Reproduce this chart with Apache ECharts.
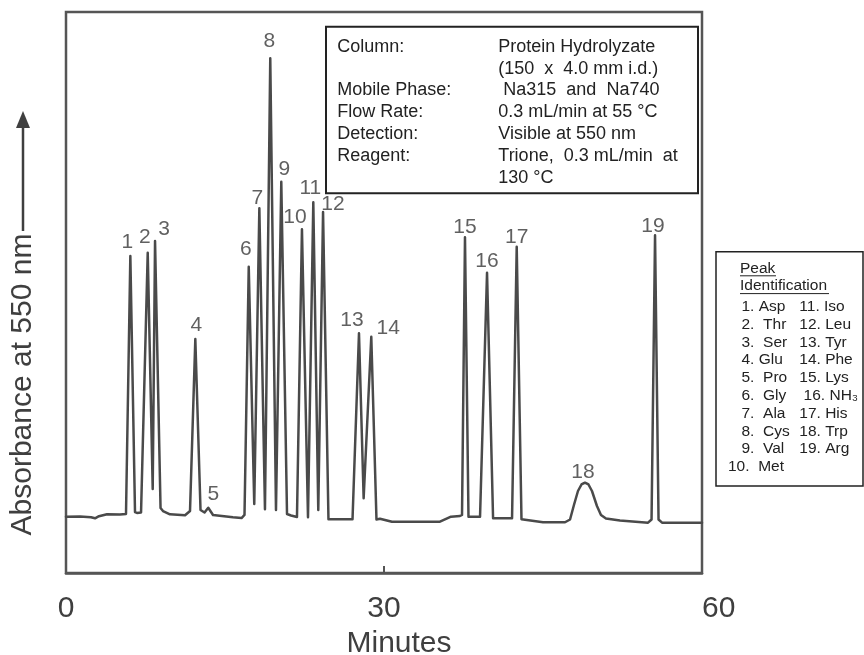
<!DOCTYPE html>
<html><head><meta charset="utf-8">
<script src="https://cdn.jsdelivr.net/npm/echarts@6/dist/echarts.min.js"></script>
<style>html,body{margin:0;padding:0;background:#fff}#c{width:864px;height:655px}</style>
</head><body><div id="c"></div>
<script>
// ---- data ----
const traceTime = [0.00,1.32,2.36,2.74,3.11,3.87,5.09,5.66,6.07,6.51,6.70,7.08,7.71,8.18,8.40,8.92,9.15,9.81,11.23,11.70,12.20,12.69,13.07,13.42,13.87,15.75,16.56,16.84,17.24,17.76,18.24,18.77,19.27,19.81,20.31,20.85,21.23,21.79,22.26,22.83,23.33,23.80,24.25,24.76,27.03,27.64,28.08,28.80,29.29,29.62,30.09,30.75,35.28,36.32,37.17,37.36,37.64,37.97,39.06,39.72,40.29,42.08,42.52,42.97,45.00,47.08,47.55,47.92,48.30,48.63,48.96,49.29,49.62,50.09,50.47,50.94,52.26,54.91,55.24,55.57,55.90,56.23,60.00];
const traceAbs = [10.04,10.05,9.93,9.75,10.12,10.48,10.41,10.52,56.51,10.87,10.70,10.78,57.09,14.97,59.18,11.59,11.05,10.46,10.29,11.05,41.71,11.23,10.78,11.64,10.34,9.93,9.80,10.34,54.60,12.30,65.01,11.35,91.75,11.23,69.75,10.52,10.25,9.98,61.27,9.93,66.08,11.23,64.35,9.57,9.57,42.73,13.32,42.12,9.54,9.68,9.45,9.14,9.14,10.04,10.16,10.34,59.84,10.04,10.04,53.53,9.75,9.75,58.16,9.57,9.04,9.04,9.54,12.12,14.62,15.78,16.10,15.78,14.62,11.94,10.34,9.71,9.36,8.97,9.54,60.20,9.54,8.97,8.97];

const peakNumbers = ['1','2','3','4','5','6','7','8','9','10','11','12','13','14','15','16','17','18','19'];
const peakTimes   = [6.07,7.71,8.40,12.20,13.42,17.24,18.24,19.27,20.31,22.26,23.33,24.25,27.64,28.80,37.64,39.72,42.52,48.96,55.57];
const peakHeights = [56.51,57.09,59.18,41.71,11.64,54.60,65.01,91.75,69.75,61.27,66.08,64.35,42.73,42.12,59.84,53.53,58.16,16.10,60.20];

const xTicks = [0, 30, 60];
const xTitle = 'Minutes';
const yTitle = 'Absorbance at 550 nm';

const infoLabels = ['Column:', '', 'Mobile Phase:', 'Flow Rate:', 'Detection:', 'Reagent:', ''];
const infoValues = ['Protein Hydrolyzate', '(150  x  4.0 mm i.d.)', ' Na315  and  Na740', '0.3 mL/min at 55 °C', 'Visible at 550 nm', 'Trione,  0.3 mL/min  at', '130 °C'];

const legendTitle = ['Peak', 'Identification'];
const legendCol1 = ['1. Asp', '2.  Thr', '3.  Ser', '4. Glu', '5.  Pro', '6.  Gly', '7.  Ala', '8.  Cys', '9.  Val', '10.  Met'];
const legendCol2 = ['11. Iso', '12. Leu', '13. Tyr', '14. Phe', '15. Lys', ' 16. NH\u2083', '17. His', '18. Trp', '19. Arg'];

// ---- styling (label nudges in px, not data) ----
const labelOffsets = [[-3,-14],[-3,-16],[9,-12],[1,-14],[5,-13],[-3,-17],[-2,-10],[-1,-17],[3,-12],[-7,-12],[-3,-14],[10,-8],[-7,-13],[17,-9],[0,-10],[0,-11],[0,-10],[-2,-10],[-2,-9]];
const FONT = '"Liberation Sans", Arial, Helvetica, sans-serif';
const INK = '#3f3f3f';

const chart = echarts.init(document.getElementById('c'), null, {renderer: 'canvas'});

const graphics = [];
// y axis title with arrow
graphics.push({type: 'text', x: 23, y: 384.5, rotation: Math.PI / 2, silent: true,
  style: {text: yTitle, x: 0, y: 0, align: 'center', verticalAlign: 'middle', fontSize: 30, fontFamily: FONT, fill: INK}});
graphics.push({type: 'line', silent: true, shape: {x1: 23, y1: 231, x2: 23, y2: 124}, style: {stroke: INK, lineWidth: 2.5}});
graphics.push({type: 'polygon', silent: true, shape: {points: [[23, 111], [16, 128], [30, 128]]}, style: {fill: INK}});

// info box
graphics.push({type: 'rect', silent: true, z: 10, shape: {x: 326, y: 26.7, width: 372, height: 166.6}, style: {fill: '#fff', stroke: '#222', lineWidth: 2}});
graphics.push({type: 'text', silent: true, z: 11, style: {text: infoLabels.join('\n'), x: 337.3, y: 35.75, align: 'left', verticalAlign: 'top', fontSize: 18, lineHeight: 21.9, fontFamily: FONT, fill: '#222'}});
graphics.push({type: 'text', silent: true, z: 11, style: {text: infoValues.join('\n'), x: 498.3, y: 35.75, align: 'left', verticalAlign: 'top', fontSize: 18, lineHeight: 21.9, fontFamily: FONT, fill: '#222'}});

// peak identification box
graphics.push({type: 'rect', silent: true, z: 10, shape: {x: 716, y: 251.7, width: 147, height: 234.3}, style: {fill: '#fff', stroke: '#222', lineWidth: 1.5}});
const legRow0 = 306.7, legStep = 17.8;
legendTitle.forEach((t, i) => {
  const y = i === 0 ? 268.3 : 286;
  graphics.push({type: 'text', silent: true, z: 11, style: {text: t, x: 740, y: y, align: 'left', verticalAlign: 'middle', fontSize: 15.5, fontFamily: FONT, fill: '#222'}});
});
graphics.push({type: 'line', silent: true, z: 11, shape: {x1: 740, y1: 275.8, x2: 776, y2: 275.8}, style: {stroke: '#222', lineWidth: 1}});
graphics.push({type: 'line', silent: true, z: 11, shape: {x1: 740, y1: 293.6, x2: 829, y2: 293.6}, style: {stroke: '#222', lineWidth: 1}});
legendCol1.forEach((t, i) => {
  graphics.push({type: 'text', silent: true, z: 11, style: {text: t, x: i === 9 ? 728 : 741.5, y: legRow0 + legStep * i, align: 'left', verticalAlign: 'middle', fontSize: 15.5, fontFamily: FONT, fill: '#222'}});
});
legendCol2.forEach((t, i) => {
  graphics.push({type: 'text', silent: true, z: 11, style: {text: t, x: 799.3, y: legRow0 + legStep * i, align: 'left', verticalAlign: 'middle', fontSize: 15.5, fontFamily: FONT, fill: '#222'}});
});

const option = {
  animation: false,
  backgroundColor: '#fff',
  grid: {left: 66, right: 162, top: 12, bottom: 82, show: true, borderColor: '#555', borderWidth: 2.5, backgroundColor: 'transparent', containLabel: false, outerBoundsMode: 'none'},
  xAxis: {
    type: 'value', min: xTicks[0], max: xTicks[xTicks.length - 1], interval: xTicks[1] - xTicks[0],
    axisLine: {show: true, lineStyle: {color: '#555', width: 2.5}},
    axisTick: {show: true, inside: true, length: 7, lineStyle: {color: '#555', width: 2}},
    splitLine: {show: false},
    axisLabel: {fontSize: 30, fontFamily: FONT, color: INK, margin: 21, alignMaxLabel: 'left'},
    name: xTitle, nameLocation: 'middle', nameGap: 53,
    nameTextStyle: {fontSize: 30, fontFamily: FONT, color: INK, padding: [0, 0, 0, 30]}
  },
  yAxis: {
    type: 'value', min: 0, max: 100,
    axisLine: {show: false}, axisTick: {show: false}, axisLabel: {show: false}, splitLine: {show: false}
  },
  series: [
    {
      type: 'line', silent: true, symbol: 'none', showSymbol: false, z: 2,
      data: traceTime.map((t, i) => [t, traceAbs[i]]),
      lineStyle: {color: '#4a4a4a', width: 2.5, join: 'round', cap: 'round'}
    },
    {
      type: 'scatter', silent: true, symbolSize: 1, z: 3,
      itemStyle: {color: 'rgba(0,0,0,0)'},
      data: peakTimes.map((t, i) => ({value: [t, peakHeights[i]], name: peakNumbers[i], label: {offset: labelOffsets[i]}})),
      label: {show: true, position: 'inside', formatter: p => p.name, fontSize: 21, fontFamily: FONT, color: '#383838'}
    }
  ],
  graphic: graphics
};
chart.setOption(option);
</script>
</body></html>
